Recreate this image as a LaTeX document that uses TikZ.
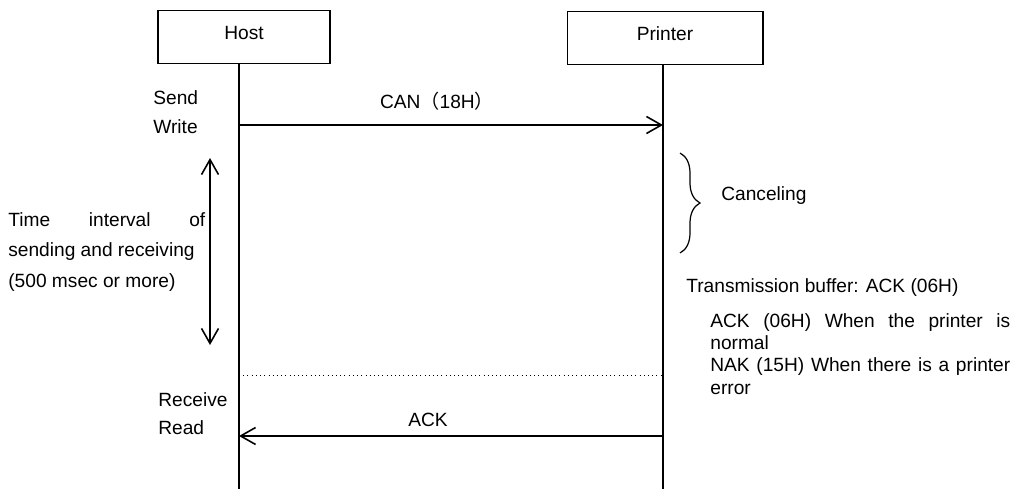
\documentclass[tikz,border=0pt]{standalone}
\usepackage{fontspec}
\setmainfont{Liberation Sans}
\newfontfamily\cjk{Noto Sans CJK SC}
\usetikzlibrary{arrows.meta, decorations.pathreplacing, positioning}

\tikzset{
  actor/.style={draw, line width=.6pt, minimum height=1.06cm, inner sep=0pt, text depth=.16cm},
  lifeline/.style={line width=.9pt},
  barb/.tip={Straight Barb[length=.3cm, width=.34cm, line width=.9pt]},
  msg/.style={line width=.9pt, -barb},
  span/.style={line width=.9pt, barb-barb},
  note/.style={inner sep=0pt, align=left, anchor=west},
}

\begin{document}
\begin{tikzpicture}[x=.02cm, y=-.02cm, font=\fontsize{10.9}{13}\selectfont]
  \useasboundingbox (0,0) rectangle (1030,489);
  % participants
  \node[actor, minimum width=3.44cm] (host) at (244,37) {Host};
  \node[actor, minimum width=3.92cm] (printer) at (665,38) {Printer};
  \coordinate (hostTop) at (239,63);
  \coordinate (hostEnd) at (239,489);
  \coordinate (printerTop) at (663,64);
  \coordinate (printerEnd) at (663,489);
  \draw[lifeline] (hostTop) -- (hostEnd);
  \draw[lifeline] (printerTop) -- (printerEnd);

  % CAN request
  \coordinate (canFrom) at (239,125);
  \coordinate (canTo) at (663,125);
  \draw[msg] (canFrom) -- (canTo);
  \node[inner sep=0pt] (canLbl) at (437,101) {CAN{\cjk （}18H{\cjk ）}};
  \node[note, font=\fontsize{10.9}{16.4}\selectfont] (send) at (153,112) {Send\\Write};

  % waiting time
  \coordinate (gapTop) at (210,158);
  \coordinate (gapBot) at (210,345);
  \draw[span] (gapBot) -- (gapTop);
  \node[note, font=\fontsize{10.9}{17.6}\selectfont] (gapLbl) at (8,252)
    {\makebox[3.94cm][s]{Time interval of}\\sending and receiving\\(500 msec or more)};

  % canceling
  \draw[decorate, decoration={brace, amplitude=.4cm}, line width=.7pt]
    (680,153) -- (680,253);
  \node[note] (cancel) at (721,196) {Canceling};
  \node[note] (buffer) at (686,288) {Transmission buffer: ACK (06H)};
  \node[note, font=\fontsize{10.9}{12.6}\selectfont] (status) at (710,354)
    {\makebox[6cm][s]{ACK (06H) When the printer is}\\normal\\
     \makebox[6cm][s]{NAK (15H) When there is a printer}\\error};

  % response
  \coordinate (ackFrom) at (663,436);
  \coordinate (ackTo) at (239,436);
  \draw[line width=.4pt, dotted] (hostTop |- 0,375) -- (printerTop |- 0,375);
  \draw[msg] (ackFrom) -- (ackTo);
  \node[inner sep=0pt] (ackLbl) at (428,420) {ACK};
  \node[note, font=\fontsize{10.9}{16}\selectfont] (recv) at (158,414) {Receive\\Read};
\end{tikzpicture}
\end{document}
